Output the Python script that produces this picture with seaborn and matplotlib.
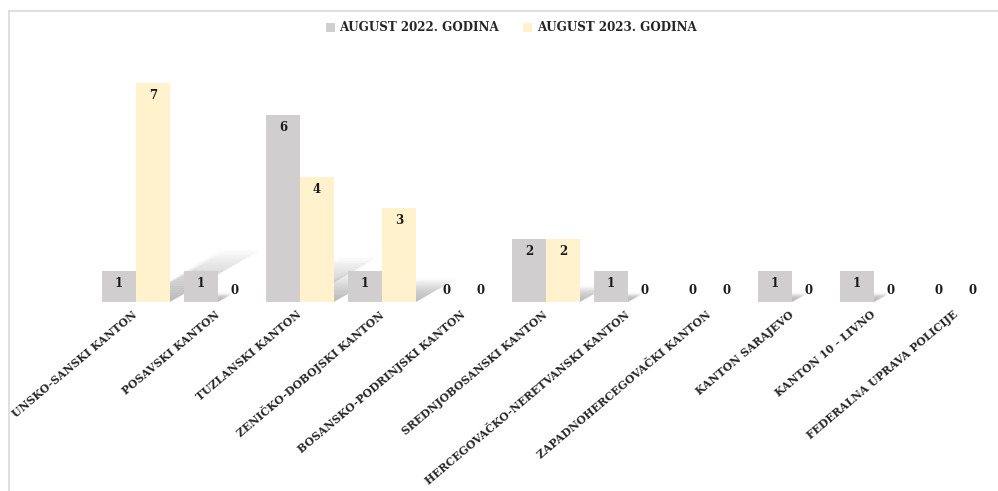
import matplotlib
matplotlib.use('Agg')
import numpy as np
import pandas as pd
import matplotlib.pyplot as plt
import seaborn as sns
from matplotlib.patches import Polygon, Rectangle
from matplotlib.lines import Line2D

# data
kantoni = ['UNSKO-SANSKI KANTON', 'POSAVSKI KANTON', 'TUZLANSKI KANTON',
           'ZENIČKO-DOBOJSKI KANTON', 'BOSANSKO-PODRINJSKI KANTON',
           'SREDNJOBOSANSKI KANTON', 'HERCEGOVAČKO-NERETVANSKI KANTON',
           'ZAPADNOHERCEGOVAČKI KANTON', 'KANTON SARAJEVO', 'KANTON 10 - LIVNO',
           'FEDERALNA UPRAVA POLICIJE']
aug_2022 = [1, 1, 6, 1, 0, 2, 1, 0, 1, 1, 0]
aug_2023 = [7, 0, 4, 3, 0, 2, 0, 0, 0, 0, 0]
periodi = ['AUGUST 2022. GODINA', 'AUGUST 2023. GODINA']
boje = ['#D0CECE', '#FFF2CC']

df = pd.DataFrame({
    'kanton': kantoni * 2,
    'broj': aug_2022 + aug_2023,
    'period': [periodi[0]] * len(kantoni) + [periodi[1]] * len(kantoni),
})

sns.set_theme(style='white')
plt.rcParams['font.family'] = ['DejaVu Serif']
plt.rcParams['font.weight'] = 'bold'

fig = plt.figure(figsize=(9.98, 4.91), dpi=100)
ax = fig.add_axes([0.095, 0.385, 0.904, 0.509])
sns.barplot(data=df, x='kanton', y='broj', hue='period', palette=boje,
            width=0.83, saturation=1, ax=ax, zorder=3, legend=False,
            linewidth=0, edgecolor='none')
ax.set_ylim(0, 8)
ax.set_xlim(-0.5, len(kantoni) - 0.5)
for s in ax.spines.values():
    s.set_visible(False)
ax.set_yticks([])
ax.set_xlabel('')
ax.set_ylabel('')
ax.tick_params(axis='x', length=0, pad=8)
ax.set_xticks(range(len(kantoni)))
ax.set_xticklabels(kantoni, rotation=40, ha='right', va='center',
                   rotation_mode='anchor', fontsize=7.8, fontweight='bold')

# perspective drop shadows (Excel style), built from the bar patches
to_px = ax.transData
to_data = ax.transData.inverted()
for cont in ax.containers:
    for p in cont.patches:
        h = p.get_height()
        if h <= 0:
            continue
        (x0, y0), (x1, y1) = to_px.transform([(p.get_x(), 0), (p.get_x() + p.get_width(), h)])
        hp = y1 - y0
        dx, dy = 0.41 * hp, 0.235 * hp
        n = 24
        for blur in (3, 0):  # soft edge pass, then core
            for i in range(n):
                t0, t1 = i / n, (i + 1) / n
                quad_px = [(x0 - blur * t0 + dx * t0, y0 + dy * t0),
                           (x1 + blur * t0 + dx * t0, y0 + dy * t0),
                           (x1 + blur * t1 + dx * t1, y0 + dy * t1 + blur * t1),
                           (x0 - blur * t1 + dx * t1, y0 + dy * t1 + blur * t1)]
                quad = to_data.transform(quad_px)
                a = (0.18 if blur else 0.5) * (1 - t0) ** 1.2
                ax.add_patch(Polygon(quad, closed=True, facecolor='#8a8a8a',
                                     edgecolor='none', alpha=a, zorder=1))

# value labels
for cont in ax.containers:
    for p in cont.patches:
        v = p.get_height()
        xc = p.get_x() + p.get_width() / 2
        if v > 0:
            ax.annotate(f'{v:.0f}', (xc, v), xytext=(0, -9), textcoords='offset points',
                        ha='center', va='center', fontsize=8.5, fontweight='bold',
                        color='#1a1a1a', zorder=5)
        else:
            ax.annotate(f'{v:.0f}', (xc, 0), xytext=(0, 8), textcoords='offset points',
                        ha='center', va='center', fontsize=8.5, fontweight='bold',
                        color='#1a1a1a', zorder=5)

# legend
handles = [Rectangle((0, 0), 1, 1, facecolor=c, edgecolor='none') for c in boje]
fig.legend(handles, periodi, loc='center', bbox_to_anchor=(0.512, 0.943), ncol=2,
           frameon=False, handlelength=0.8, handleheight=0.8, handletextpad=0.35,
           columnspacing=2.0, prop={'size': 8.6, 'weight': 'bold'})

# chart area border (left and top visible)
bx, by = 8.5 / 998, 1 - 11 / 491
fig.add_artist(Line2D([bx, bx], [-0.01, by], color='#d9d9d9', lw=1.2))
fig.add_artist(Line2D([bx, 1.01], [by, by], color='#d9d9d9', lw=1.2))

fig.savefig('out.png', dpi=100)
